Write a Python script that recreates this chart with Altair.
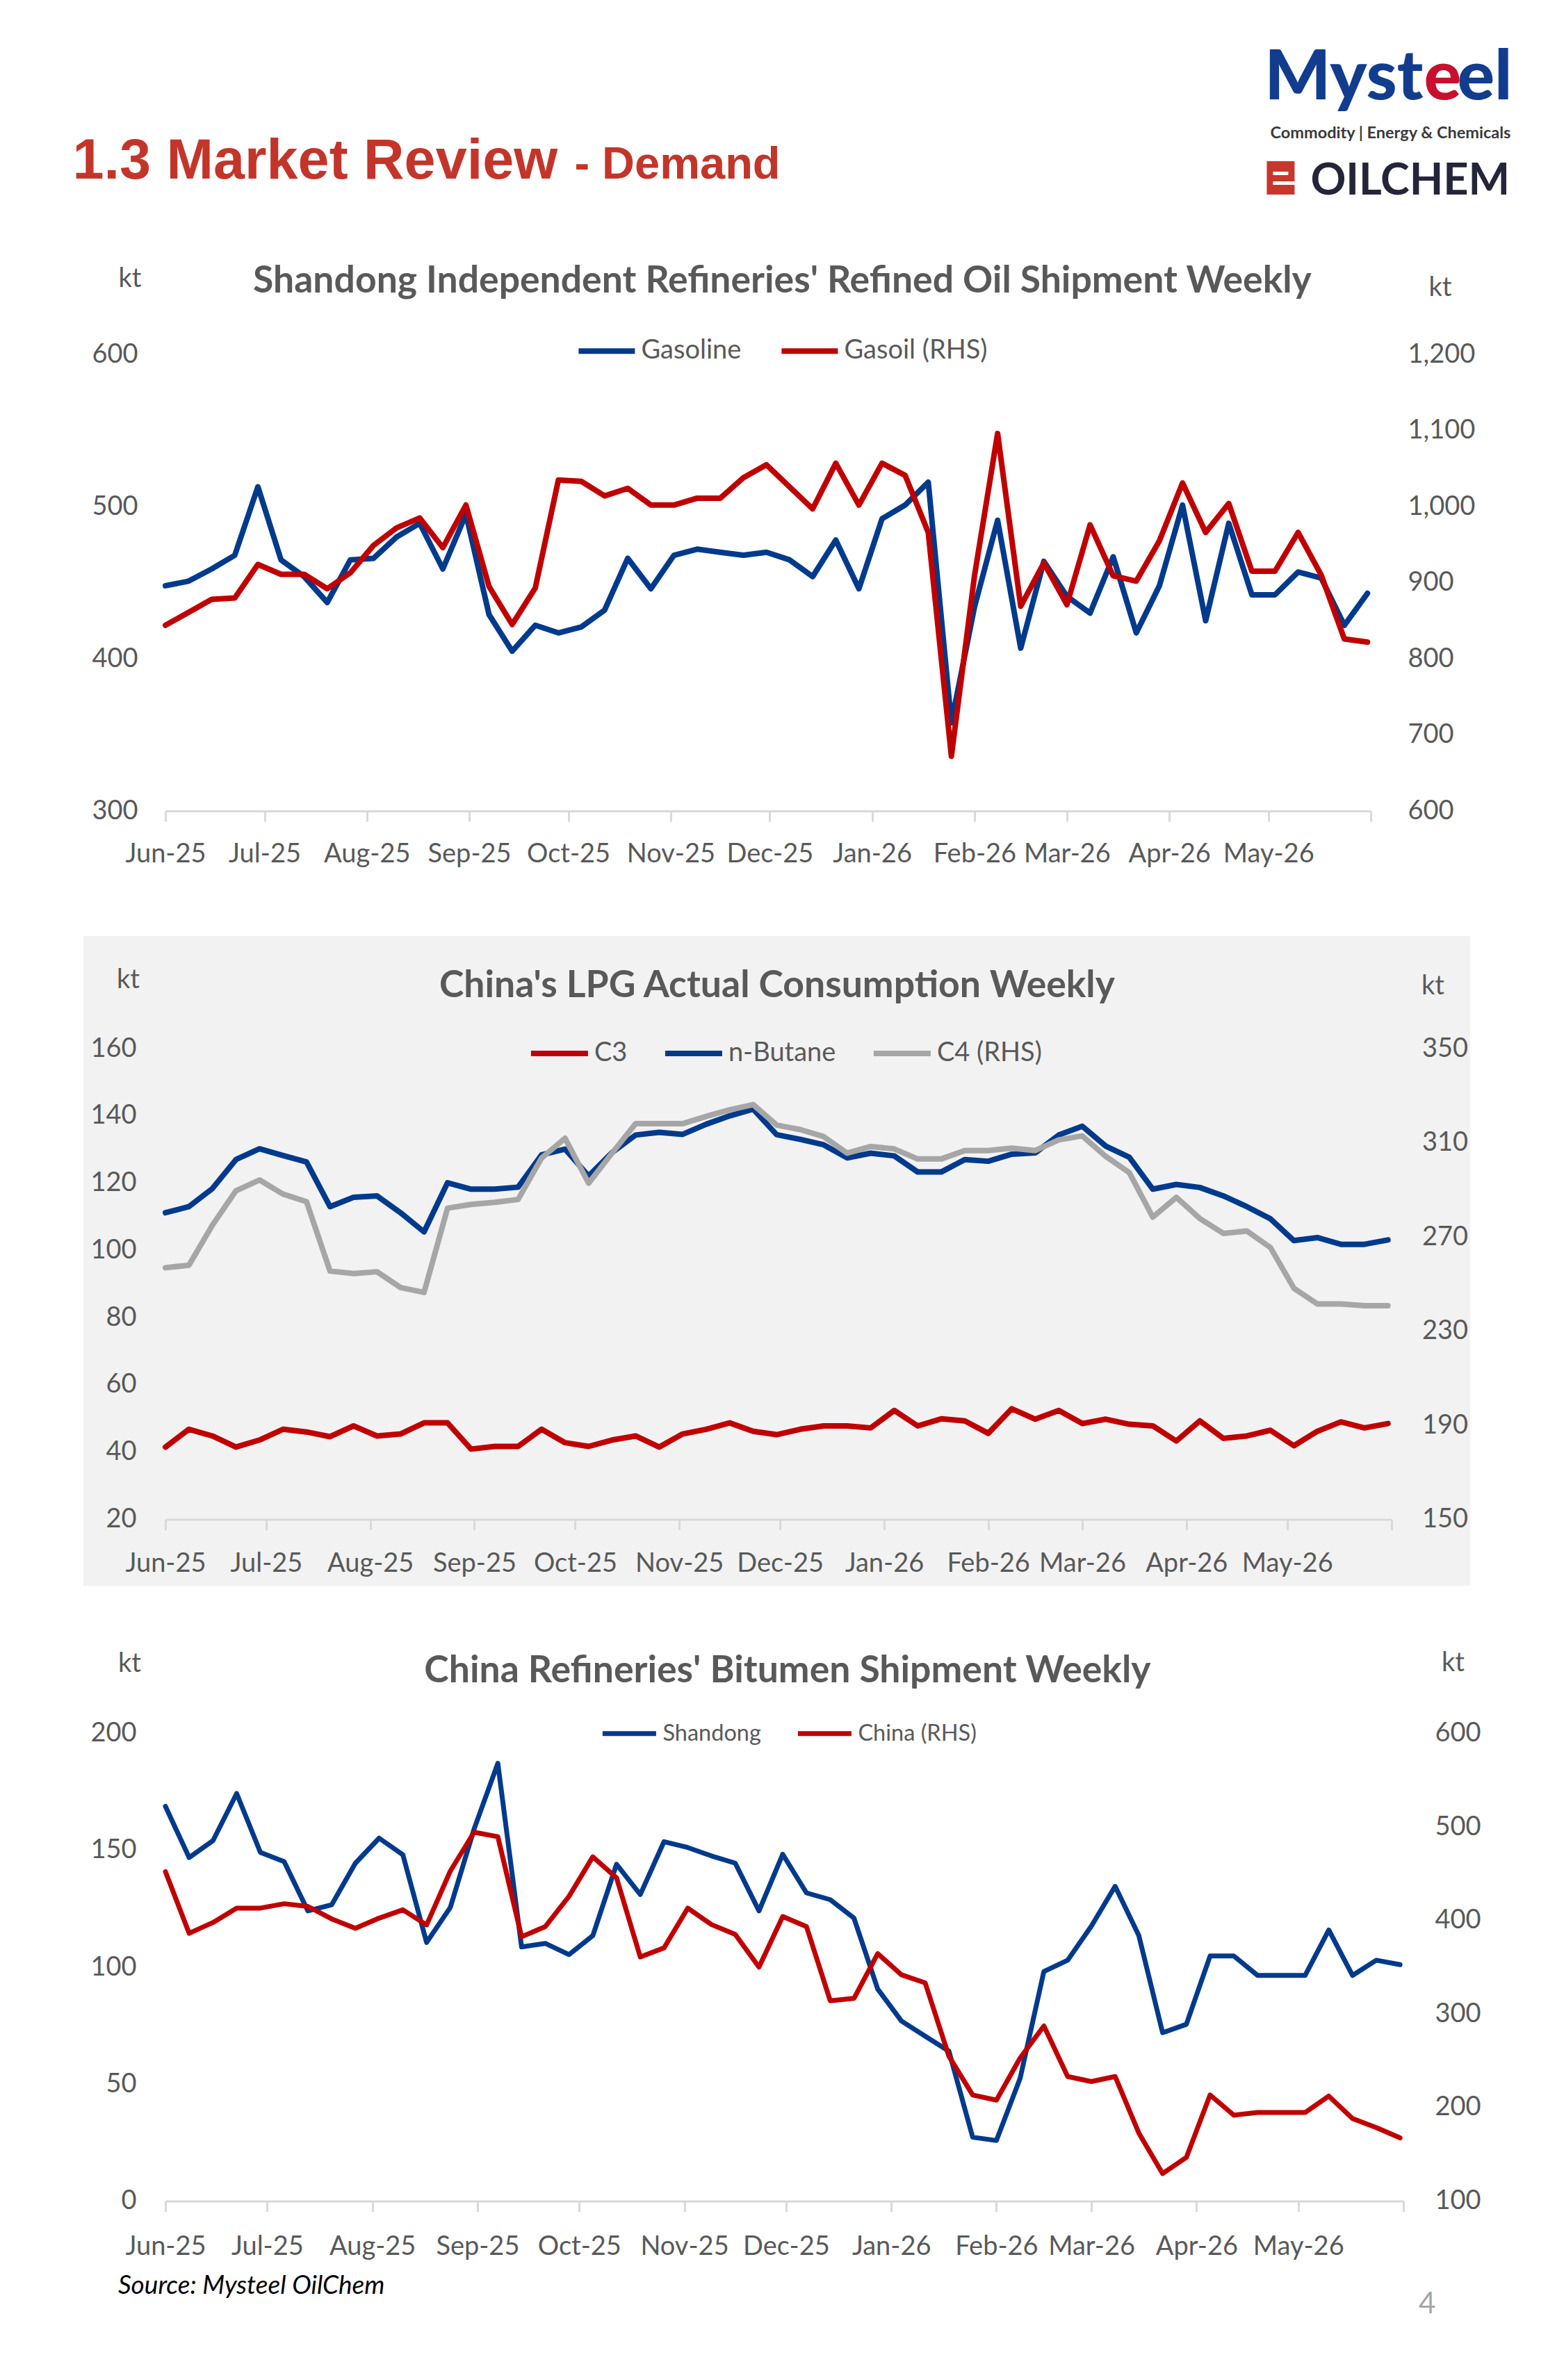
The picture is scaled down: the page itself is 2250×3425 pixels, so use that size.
import altair as alt
import pandas as pd

# ------------------------------------------------------------------ data
DATES = [
    "2025-06-01", "2025-06-08", "2025-06-15", "2025-06-22", "2025-06-29",
    "2025-07-06", "2025-07-13", "2025-07-20", "2025-07-27",
    "2025-08-03", "2025-08-10", "2025-08-17", "2025-08-24", "2025-08-31",
    "2025-09-07", "2025-09-14", "2025-09-21", "2025-09-28",
    "2025-10-05", "2025-10-12", "2025-10-19", "2025-10-26",
    "2025-11-02", "2025-11-09", "2025-11-16", "2025-11-23", "2025-11-30",
    "2025-12-07", "2025-12-14", "2025-12-21", "2025-12-28",
    "2026-01-04", "2026-01-11", "2026-01-18", "2026-01-25",
    "2026-02-01", "2026-02-08", "2026-02-15", "2026-02-22",
    "2026-03-01", "2026-03-08", "2026-03-15", "2026-03-22", "2026-03-29",
    "2026-04-05", "2026-04-12", "2026-04-19", "2026-04-26",
    "2026-05-03", "2026-05-10", "2026-05-17", "2026-05-24", "2026-05-31",
]
MONTH_TICKS = [
    "2025-06-01", "2025-07-01", "2025-08-01", "2025-09-01", "2025-10-01",
    "2025-11-01", "2025-12-01", "2026-01-01", "2026-02-01", "2026-03-01",
    "2026-04-01", "2026-05-01", "2026-06-01",
]

GASOLINE = [448, 451, 459, 468, 513, 465, 454, 437, 465, 466,
            480, 489, 459, 495, 429, 405, 422, 417, 421, 432,
            466, 446, 468, 472, 470, 468, 470, 465, 454, 478,
            446, 492, 501, 516, 358, 434, 491, 407, 464, 441,
            430, 467, 417, 448, 501, 425, 489, 442, 442, 457,
            453, 422, 443]
GASOIL = [844, 861, 878, 880, 924, 911, 911, 892, 913, 949,
          972, 985, 946, 1002, 895, 845, 893, 1035, 1033, 1014,
          1024, 1002, 1002, 1011, 1011, 1038, 1055, 1026, 997, 1057,
          1002, 1057, 1041, 966, 672, 909, 1096, 869, 926, 871,
          976, 909, 902, 955, 1031, 966, 1004, 915, 915, 966,
          910, 826, 822]

C3 = [41.5, 46.8, 44.8, 41.5, 43.6, 46.8, 46.0, 44.6, 47.8, 44.8,
      45.4, 48.7, 48.7, 40.9, 41.7, 41.7, 46.8, 42.8, 41.7, 43.6,
      44.8, 41.5, 45.4, 46.8, 48.7, 46.2, 45.2, 46.8, 47.8, 47.8,
      47.2, 52.4, 47.8, 49.9, 49.3, 45.6, 52.9, 49.8, 52.4, 48.5,
      49.8, 48.3, 47.8, 43.3, 49.3, 44.1, 44.8, 46.5, 41.9, 46.2,
      49.0, 47.2, 48.5]
N_BUTANE = [111.2, 113.0, 118.4, 127.0, 130.2, 128.2, 126.3, 113.0, 115.8, 116.2,
            111.2, 105.5, 120.1, 118.2, 118.2, 118.8, 128.4, 130.1, 122.1, 129.1,
            134.3, 135.1, 134.5, 137.5, 140.0, 142.0, 134.4, 133.0, 131.4, 127.5,
            128.9, 128.1, 123.3, 123.3, 127.0, 126.5, 128.6, 129.0, 134.3, 136.9,
            131.0, 127.7, 118.2, 119.6, 118.7, 116.2, 113.0, 109.4, 102.9, 103.8,
            101.8, 101.8, 103.1]
C4 = [256.9, 258.0, 275.0, 289.6, 294.2, 288.2, 285.0, 255.5, 254.4, 255.2,
      248.5, 246.4, 282.2, 283.8, 284.7, 285.9, 303.5, 311.9, 292.8, 305.6,
      318.1, 318.1, 318.1, 321.2, 324.0, 326.2, 317.5, 315.6, 312.6, 305.6,
      308.4, 307.4, 303.1, 303.1, 306.7, 306.7, 307.7, 306.7, 311.2, 312.9,
      304.2, 297.3, 278.4, 286.8, 277.8, 271.5, 272.5, 265.5, 248.2, 241.5,
      241.5, 240.8, 240.8]

BIT_SHANDONG = [168.8, 146.9, 154.1, 174.3, 149.1, 145.2, 124.1, 126.7, 144.5, 155.2,
                148.1, 110.6, 125.6, 159.1, 187.2, 108.7, 110.2, 105.4, 113.5, 144.0,
                131.1, 153.7, 151.2, 147.6, 144.5, 124.1, 148.3, 131.8, 128.9, 121.0,
                90.7, 77.0, 70.5, 64.1, 27.3, 25.9, 52.5, 98.2, 103.0, 117.6,
                134.6, 113.5, 72.0, 75.6, 104.8, 104.8, 96.5, 96.5, 96.5, 115.9,
                96.5, 103.0, 101.1]
BIT_CHINA = [452.2, 386.3, 397.8, 413.2, 413.2, 417.9, 415.0, 401.7, 391.6, 402.5,
             411.4, 395.2, 452.9, 494.3, 489.6, 382.6, 393.5, 425.9, 468.0, 445.6,
             361.0, 370.7, 413.2, 395.6, 385.1, 350.2, 404.2, 393.5, 314.2, 316.7,
             364.6, 341.9, 333.3, 254.8, 213.4, 207.9, 253.0, 287.2, 233.2, 227.8,
             233.2, 172.7, 129.4, 146.7, 213.4, 191.8, 194.7, 194.7, 194.7, 212.2,
             188.2, 178.5, 167.6]

SERIES1 = ["Gasoline", "Gasoil (RHS)"]
SERIES2 = ["C3", "n-Butane", "C4 (RHS)"]
SERIES3 = ["Shandong", "China (RHS)"]

Y1_LEFT = [300, 400, 500, 600]
Y1_RIGHT = [600, 700, 800, 900, 1000, 1100, 1200]
Y2_LEFT = [20, 40, 60, 80, 100, 120, 140, 160]
Y2_RIGHT = [150, 190, 230, 270, 310, 350]
Y3_LEFT = [0, 50, 100, 150, 200]
Y3_RIGHT = [100, 200, 300, 400, 500, 600]

TITLE1 = "Shandong Independent Refineries' Refined Oil Shipment Weekly"
TITLE2 = "China's LPG Actual Consumption Weekly"
TITLE3 = "China Refineries' Bitumen Shipment Weekly"

# ------------------------------------------------------------------ style
BLUE = "#003A8C"
RED = "#C00000"
GRAY = "#A6A6A6"
TXT = "#595959"
AXLINE = "#D9D9D9"
PANEL_BG = "#F2F2F2"
HEAD_RED = "#C3352A"
FONT = "Lato"
HEAD_FONT = "Liberation Sans"
TITLE_SIZE = 53.5

# plot-area origins (page pixels) and sizes
O1, W1, H1 = (237.6, 510.0), 1734, 657
O2, W2, H2 = (238.1, 1509.0), 1763.5, 677.5
O3, W3, H3 = (238.1, 2494.0), 1781, 673


def dt(s):
    y, m, d = (int(v) for v in s.split("-"))
    return alt.DateTime(year=y, month=m, date=d, utc=True)


X_DOMAIN = [dt(MONTH_TICKS[0]), dt(MONTH_TICKS[-1])]
X_VALUES = [dt(s) for s in MONTH_TICKS]
LABEL_EXPR = "datum.value >= utc(2026, 5, 1) ? '' : utcFormat(datum.value, '%b-%y')"

ONE = pd.DataFrame({"k": [0]})


def frame(values, name):
    return pd.DataFrame({"date": DATES, "value": values, "series": name})


def x_enc(lp):
    return alt.X(
        "date:T",
        title=None,
        scale=alt.Scale(type="utc", domain=X_DOMAIN),
        axis=alt.Axis(values=X_VALUES, labelExpr=LABEL_EXPR, grid=False,
                      domainColor=AXLINE, domainWidth=3, tickColor=AXLINE,
                      tickWidth=3, tickSize=15, labelFont=FONT, labelFontSize=38,
                      labelColor=TXT, labelPadding=lp, labelOverlap=False,
                      labelFlush=False, labelBound=False, zindex=1),
    )


def y_enc(dom, vals, orient, pad, fmt=",.0f"):
    ax = dict(orient=orient, values=vals, title=None, grid=False, domain=False,
              ticks=False, labelFont=FONT, labelFontSize=38, labelColor=TXT,
              labelPadding=pad, zindex=1, format=fmt)
    return alt.Y("value:Q", scale=alt.Scale(domain=dom, nice=False, zero=False),
                 axis=alt.Axis(**ax))


def legend(o, sym_x, cy, length, sw, fs, lo, cp):
    return alt.Legend(
        title=None, orient="none",
        legendX=sym_x - o[0] - sw / 2, legendY=cy - o[1] - (length + sw) / 2,
        direction="horizontal", symbolType="stroke", symbolSize=length ** 2,
        symbolStrokeWidth=sw, labelFont=FONT, labelFontSize=fs, labelColor=TXT,
        labelOffset=lo, columnPadding=cp, labelLimit=600, padding=0, zindex=1,
    )


def color(series, colors, leg):
    return alt.Color("series:N", scale=alt.Scale(domain=series, range=colors),
                     legend=leg)


def lines(df, lp, y, col, sw):
    return alt.Chart(df).mark_line(strokeWidth=sw, strokeJoin="round",
                                   strokeCap="round").encode(x=x_enc(lp), y=y, color=col)


def T(o, s, ax, ay, size, color=TXT, weight="normal", align="left",
      font=FONT, style="normal"):
    return alt.Chart(ONE).mark_text(
        text=s, align=align, baseline="alphabetic", fontSize=size, font=font,
        fontWeight=weight, fontStyle=style, color=color,
    ).encode(x=alt.value(ax - o[0]), y=alt.value(ay - o[1]))


def R(o, x1, y1, x2, y2, color):
    return alt.Chart(ONE).mark_rect(color=color).encode(
        x=alt.value(x1 - o[0]), x2=alt.value(x2 - o[0]),
        y=alt.value(y1 - o[1]), y2=alt.value(y2 - o[1]))


# ------------------------------------------------------------------ panel 1
leg1 = legend(O1, 832, 505, 81, 8, 38, 5, 42)
c1 = [BLUE, RED]
p1 = alt.layer(
    R(O1, 0, 0, 1, 1, "white"),  # page anchor (top-left corner)
    T(O1, "1.3 Market Review", 104, 257, 81, HEAD_RED, "bold", font=HEAD_FONT),
    T(O1, "- Demand", 826, 257, 65, HEAD_RED, "bold", font=HEAD_FONT),
    T(O1, "Myst", 2047, 143, 100, "#123D8E", 900, align="right"),
    T(O1, "e", 2048, 143, 100, "#C8102E", 900),
    T(O1, "el", 2096, 143, 100, "#123D8E", 900),
    T(O1, "Commodity | Energy & Chemicals", 2000, 199, 23.5, "#3A3A3A", "bold", align="center"),
    R(O1, 1822, 232, 1862, 280, "#C8372D"),
    R(O1, 1831, 247, 1853, 252, "white"),
    R(O1, 1831, 261, 1862, 266, "white"),
    T(O1, "OILCHEM", 1885, 280, 63, "#25253A", "bold"),
    T(O1, TITLE1, 1125, 421, TITLE_SIZE, TXT, "bold", align="center"),
    T(O1, "kt", 170, 413, 38),
    T(O1, "kt", 2055, 426, 38),
    lines(frame(GASOLINE, SERIES1[0]), 28, y_enc([300, 600], Y1_LEFT, "left", 40),
          color(SERIES1, c1, leg1), 8),
    lines(frame(GASOIL, SERIES1[1]), 28, y_enc([600, 1200], Y1_RIGHT, "right", 53),
          color(SERIES1, c1, leg1), 8),
).resolve_scale(y="independent").properties(width=W1, height=H1)

# ------------------------------------------------------------------ panel 2
leg2 = legend(O2, 764, 1516, 82, 8, 38, 5, 38)
c2 = [RED, BLUE, GRAY]
p2 = alt.layer(
    R(O2, 120, 1347, 2115, 2282, PANEL_BG),
    T(O2, TITLE2, 1118, 1435, TITLE_SIZE, TXT, "bold", align="center"),
    T(O2, "kt", 168, 1422, 38),
    T(O2, "kt", 2045, 1431, 38),
    lines(pd.concat([frame(C3, SERIES2[0]), frame(N_BUTANE, SERIES2[1])]), 30,
          y_enc([20, 160], Y2_LEFT, "left", 42), color(SERIES2, c2, leg2), 8),
    lines(frame(C4, SERIES2[2]), 30, y_enc([150, 350], Y2_RIGHT, "right", 44),
          color(SERIES2, c2, leg2), 8),
).resolve_scale(y="independent").properties(width=W2, height=H2)

# ------------------------------------------------------------------ panel 3
leg3 = legend(O3, 867, 2494, 77, 7, 32.5, 6, 38)
c3 = [BLUE, RED]
p3 = alt.layer(
    T(O3, TITLE3, 1133, 2420, TITLE_SIZE, TXT, "bold", align="center"),
    T(O3, "kt", 170, 2405, 38),
    T(O3, "kt", 2074, 2404, 38),
    T(O3, "Source: Mysteel OilChem", 170, 3300, 37, "#000000", style="italic"),
    T(O3, "4", 2041, 3328, 42, "#A6A6A6"),
    lines(frame(BIT_SHANDONG, SERIES3[0]), 32, y_enc([0, 200], Y3_LEFT, "left", 42),
          color(SERIES3, c3, leg3), 7),
    lines(frame(BIT_CHINA, SERIES3[1]), 32, y_enc([100, 600], Y3_RIGHT, "right", 45),
          color(SERIES3, c3, leg3), 7),
).resolve_scale(y="independent").properties(width=W3, height=H3)

lower = alt.vconcat(p2, p3, spacing=O3[1] - (O2[1] + H2), bounds="flush").resolve_scale(
    color="independent")
chart = alt.vconcat(p1, lower, spacing=O2[1] - (O1[1] + H1), bounds="flush").resolve_scale(
    color="independent").properties(padding=0, background="white").configure_view(stroke=None)

chart.save("out.html", embed_options={"renderer": "svg", "actions": False})
